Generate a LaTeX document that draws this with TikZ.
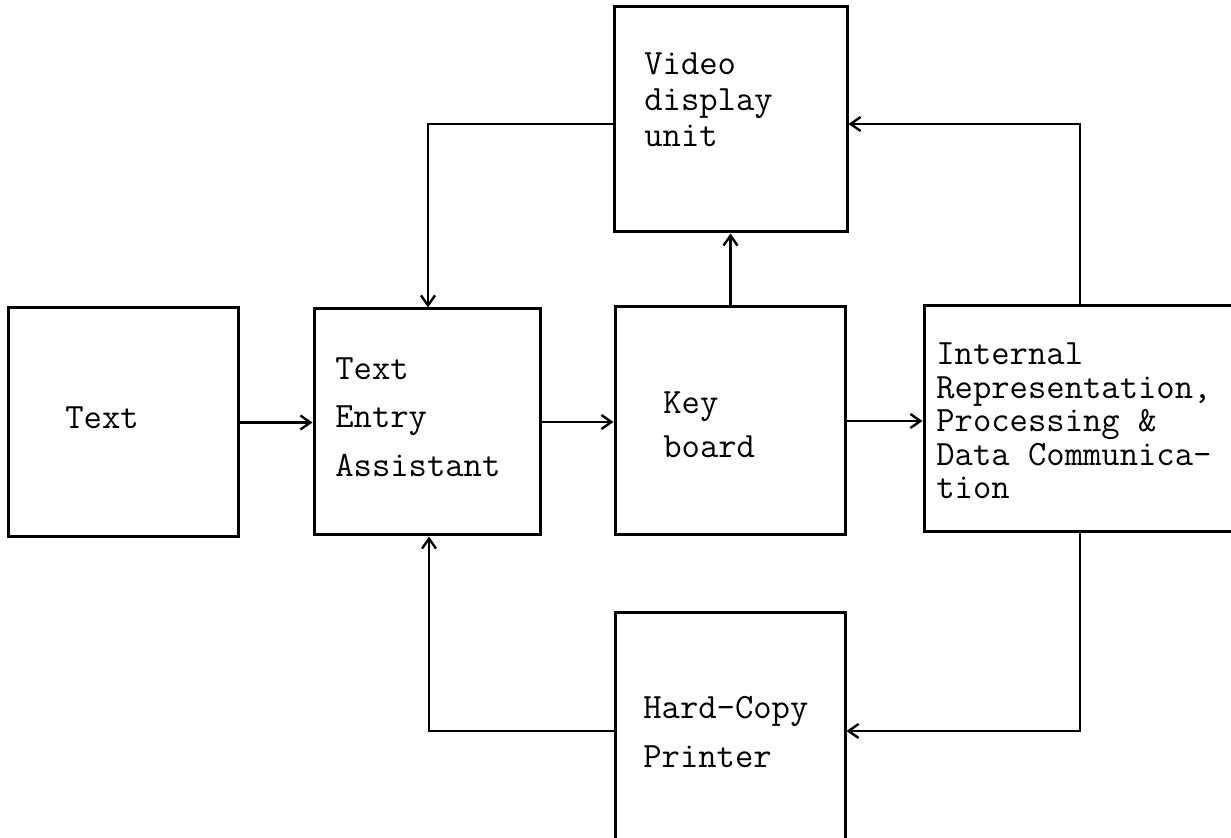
\documentclass[tikz,border=0pt]{standalone}
\usetikzlibrary{arrows.meta}
\tikzset{
  box/.style={draw, line width=1.5pt, rectangle, inner sep=0pt},
  lbl/.style={anchor=west, inner sep=0pt, align=left, font=\ttfamily\fontsize{17.8pt}{#1}\selectfont},
  lbl/.default={18pt},
  arr/.style={line width=1.4pt, -{Straight Barb[length=5pt,width=7pt,line width=1.2pt]}},
}
\begin{document}
\begin{tikzpicture}[x=0.5pt,y=-0.5pt]
\clip (0,0) rectangle (1231,838);
\fill[white] (0,0) rectangle (1231,838);
% boxes
\node[box, minimum width=115pt, minimum height=114.5pt] (text) at (123,422.5) {};
\node[box, minimum width=113pt, minimum height=113pt] (tea) at (427,422) {};
\node[box, minimum width=115pt, minimum height=114pt] (kb) at (730,421) {};
\node[box, minimum width=165pt, minimum height=113pt] (ir) at (1089,419) {};
\node[box, minimum width=116.5pt, minimum height=112.5pt] (vdu) at (730.5,119.5) {};
\node[box, minimum width=115pt, minimum height=125pt] (hcp) at (730,738) {};
% labels
\node[lbl] (ltext) at (65,418) {Text};
\node[lbl=24.25pt] (ltea) at (335,417) {Text\\Entry\\Assistant};
\node[lbl=22pt] (lkb) at (663,425) {Key\\board};
\node[lbl=16.7pt] (lir) at (936,421) {Internal\\Representation,\\Processing \&\\Data Communica-\\tion};
\node[lbl=18pt] (lvdu) at (644,100) {Video\\display\\unit};
\node[lbl=24.5pt] (lhcp) at (643,732) {Hard-Copy\\Printer};
% bend points
\coordinate (c1) at (428,124);
\coordinate (c2) at (1080,124);
\coordinate (c3) at (1080,731);
\coordinate (c4) at (429,731);
% connectors
\draw[arr] (text.east) -- (text.east -| tea.west);
\draw[arr] (tea.east) -- (tea.east -| kb.west);
\draw[arr] (kb.east) -- (kb.east -| ir.west);
\draw[arr] (kb.north -| vdu.south) -- (vdu.south);
\draw[arr] (c1 -| vdu.west) -- (c1) -- (c1 |- tea.north);
\draw[arr] (c2 |- ir.north) -- (c2) -- (c2 -| vdu.east);
\draw[arr] (c3 |- ir.south) -- (c3) -- (c3 -| hcp.east);
\draw[arr] (c4 -| hcp.west) -- (c4) -- (c4 |- tea.south);
\end{tikzpicture}
\end{document}
